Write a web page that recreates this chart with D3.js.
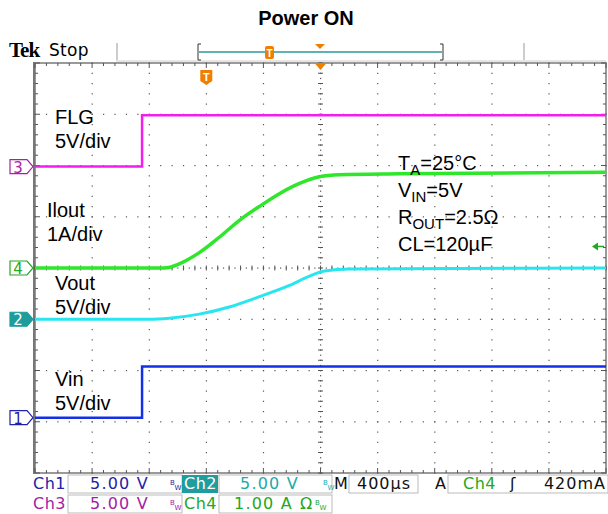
<!DOCTYPE html>
<html>
<head>
<meta charset="utf-8">
<script src="https://cdn.jsdelivr.net/npm/d3@7/dist/d3.min.js"></script>
<style>
body { margin:0; background:#fff; }
svg { display:block; }
</style>
</head>
<body>
<div id="chart-area"></div>
<script>
// Data (time in us, trigger point = 0)
var timeDomain = [-1200, 2800];

var vinTime  = [-1200, -450, 2800];
var vinVolts = [0, 5, 5];

var flgTime  = [-1200, -450, 2800];
var flgVolts = [0, 5, 5];

var ioutTime = [-1200, -295, -190, -49, 91, 232, 372, 512, 653, 793, 933, 1354, 2800];
var ioutAmps = [0, 0, 0.08, 0.3, 0.6, 0.93, 1.2, 1.45, 1.65, 1.78, 1.82, 1.84, 1.87];

var voutTime  = [-1200, -400, -260, -49, 161, 372, 582, 723, 828, 1004, 2800];
var voutVolts = [0, 0, 0.1, 0.5, 1.2, 2.2, 3.3, 4.2, 4.7, 4.9, 5.0];

var triggerLevel = 0.42; // A on Ch4

var labels = [
    { lines:["FLG","5V/div"],   x:55, y:117 },
    { lines:["Ilout","1A/div"], x:47, y:210 },
    { lines:["Vout","5V/div"],  x:55, y:283 },
    { lines:["Vin","5V/div"],   x:55, y:379 }
];

// Geometry
var width = 608, height = 514;
var plot = { left:35, right:606, top:63, bottom:473 };

var svg = d3.select("#chart-area").append("svg")
    .attr("width", width)
    .attr("height", height)
    .style("font-family","'Liberation Sans', Arial, sans-serif");

// Scales
var xDiv = d3.scaleLinear().domain([0,10]).range([plot.left, plot.right]);
var yDiv = d3.scaleLinear().domain([-4,4]).range([plot.bottom, plot.top]);
var timeScale = d3.scaleLinear().domain(timeDomain).range([plot.left, plot.right]);

// channels: offset in divisions, units per div
var channels = {
    ch1: { color:"#1430e6", offset:-2.92, perDiv:5, num:"1", stroke:"#1f1fa8" },
    ch2: { color:"#27e6f0", offset:-1.0,  perDiv:5, num:"2", stroke:"#1f9c9c" },
    ch3: { color:"#f21ef0", offset:1.98,  perDiv:5, num:"3", stroke:"#a81fa8" },
    ch4: { color:"#2ee62a", offset:0.0,   perDiv:1, num:"4", stroke:"#22a822" }
};
function chY(ch, v) { return yDiv(ch.offset + v / ch.perDiv); }

// Title
svg.append("text")
    .attr("x", 306).attr("y", 25)
    .attr("text-anchor","middle")
    .style("font-weight","bold").style("font-size","20px")
    .text("Power ON");

// Header
svg.append("text").attr("x",9).attr("y",57)
    .style("font-family","'Liberation Serif', serif")
    .style("font-weight","bold").style("font-size","21px")
    .style("letter-spacing","-1px")
    .text("Tek");
svg.append("text").attr("x",49).attr("y",56)
    .style("font-family","'DejaVu Sans', sans-serif")
    .style("font-size","17px").style("letter-spacing","0.3px")
    .text("Stop");

[117, 524].forEach(function(x){
    svg.append("line").attr("x1",x).attr("x2",x).attr("y1",43).attr("y2",60)
        .attr("stroke","#999").attr("stroke-width",1);
});
svg.append("line").attr("x1",116).attr("x2",606).attr("y1",61).attr("y2",61)
    .attr("stroke","#ccc");

// record bar
svg.append("line").attr("x1",199).attr("x2",442).attr("y1",52).attr("y2",52)
    .attr("stroke","#2a9a9a").attr("stroke-width",1.5);
svg.append("path").attr("d","M201,44 h-3 v16 h3").attr("fill","none").attr("stroke","#333");
svg.append("path").attr("d","M440,44 h3 v16 h-3").attr("fill","none").attr("stroke","#333");
svg.append("rect").attr("x",265).attr("y",46).attr("width",9).attr("height",13).attr("rx",2)
    .attr("fill","#f07f00");
svg.append("text").attr("x",269.5).attr("y",57).attr("text-anchor","middle")
    .style("font-size","10px").style("font-weight","bold").attr("fill","#fff").text("T");
svg.append("path").attr("d","M315,44 L325,44 L320,49 Z").attr("fill","#f07f00");

// Grid
var grid = svg.append("g");
grid.append("rect")
    .attr("x",plot.left).attr("y",plot.top)
    .attr("width",plot.right-plot.left).attr("height",plot.bottom-plot.top)
    .attr("fill","none").attr("stroke","#9a9a9a").attr("stroke-width",2);
grid.append("line").attr("x1",plot.left-1).attr("x2",plot.left-1)
    .attr("y1",plot.top-1).attr("y2",plot.bottom+1)
    .attr("stroke","#777").attr("stroke-width",2);

var minorX = d3.range(0, 10.001, 0.2);
var minorY = d3.range(-4, 4.001, 0.2);

// dots along vertical major lines
d3.range(1,10).forEach(function(i){
    if (i === 5) return;
    grid.selectAll(null).data(minorY).enter().append("rect")
        .attr("x", xDiv(i)-0.5).attr("y", function(d){ return yDiv(d)-0.5; })
        .attr("width",1.2).attr("height",1.2).attr("fill","#555");
});
// dots along horizontal major lines
d3.range(-3,4).forEach(function(k){
    if (k === 0) return;
    grid.selectAll(null).data(minorX).enter().append("rect")
        .attr("x", function(d){ return xDiv(d)-0.5; }).attr("y", yDiv(k)-0.5)
        .attr("width",1.2).attr("height",1.2).attr("fill","#555");
});
// center axes with ticks
grid.selectAll(null).data(minorY).enter().append("line")
    .attr("x1", xDiv(5)-2.5).attr("x2", xDiv(5)+2.5)
    .attr("y1", function(d){ return yDiv(d); }).attr("y2", function(d){ return yDiv(d); })
    .attr("stroke","#555").attr("stroke-width",1);
grid.selectAll(null).data(d3.range(-4,4.001,0.1)).enter().append("rect")
    .attr("x", xDiv(5)-0.5).attr("y", function(d){ return yDiv(d)-0.5; })
    .attr("width",1.2).attr("height",1.2).attr("fill","#555");
grid.selectAll(null).data(d3.range(0,10.001,0.1)).enter().append("rect")
    .attr("x", function(d){ return xDiv(d)-0.5; }).attr("y", yDiv(0)-0.5)
    .attr("width",1.2).attr("height",1.2).attr("fill","#555");
grid.selectAll(null).data(minorX).enter().append("line")
    .attr("x1", function(d){ return xDiv(d); }).attr("x2", function(d){ return xDiv(d); })
    .attr("y1", yDiv(0)-2.5).attr("y2", yDiv(0)+2.5)
    .attr("stroke","#555").attr("stroke-width",1);
// border ticks
grid.selectAll(null).data(minorX).enter().append("line")
    .attr("x1", function(d){ return xDiv(d); }).attr("x2", function(d){ return xDiv(d); })
    .attr("y1", plot.top).attr("y2", function(d,i){ return plot.top + (i%5===0 ? 5 : 3); })
    .attr("stroke","#555");
grid.selectAll(null).data(minorX).enter().append("line")
    .attr("x1", function(d){ return xDiv(d); }).attr("x2", function(d){ return xDiv(d); })
    .attr("y1", plot.bottom).attr("y2", function(d,i){ return plot.bottom - (i%5===0 ? 5 : 3); })
    .attr("stroke","#555");
grid.selectAll(null).data(minorY).enter().append("line")
    .attr("x1", plot.left).attr("x2", function(d,i){ return plot.left + (i%5===0 ? 5 : 3); })
    .attr("y1", function(d){ return yDiv(d); }).attr("y2", function(d){ return yDiv(d); })
    .attr("stroke","#555");
grid.selectAll(null).data(minorY).enter().append("line")
    .attr("x1", plot.right).attr("x2", function(d,i){ return plot.right - (i%5===0 ? 5 : 3); })
    .attr("y1", function(d){ return yDiv(d); }).attr("y2", function(d){ return yDiv(d); })
    .attr("stroke","#555");

// trigger markers on grid
svg.append("path").attr("d","M"+(xDiv(5)-6)+","+plot.top+" L"+(xDiv(5)+6)+","+plot.top+" L"+xDiv(5)+","+(plot.top+7)+" Z")
    .attr("fill","#f07f00");
var tx = timeScale(0);
svg.append("path")
    .attr("d","M"+(tx-6)+",70 h12 v11 l-6,4 l-6,-4 Z")
    .attr("fill","#f07f00");
svg.append("text").attr("x",tx).attr("y",81).attr("text-anchor","middle")
    .style("font-size","11px").style("font-weight","bold").attr("fill","#fff").text("T");

// Traces
function drawTrace(times, vals, ch, curve, w) {
    var pts = times.map(function(t,i){ return [t, vals[i]]; });
    var line = d3.line()
        .x(function(d){ return timeScale(d[0]); })
        .y(function(d){ return chY(ch, d[1]); })
        .curve(curve);
    svg.append("path")
        .attr("d", line(pts))
        .attr("fill","none")
        .attr("stroke", ch.color)
        .attr("stroke-width", w);
}
drawTrace(flgTime, flgVolts, channels.ch3, d3.curveStepAfter, 2.5);
drawTrace(vinTime, vinVolts, channels.ch1, d3.curveStepAfter, 2.5);
drawTrace(voutTime, voutVolts, channels.ch2, d3.curveMonotoneX, 3);
drawTrace(ioutTime, ioutAmps, channels.ch4, d3.curveMonotoneX, 3.5);

// Channel ground markers
["ch3","ch4","ch2","ch1"].forEach(function(k){
    var ch = channels[k], y = chY(ch, 0);
    var filled = (k === "ch2");
    svg.append("path")
        .attr("d","M10,"+(y-7)+" h17 l6,7 l-6,7 h-17 Z")
        .attr("fill", filled ? ch.stroke : "#fff")
        .attr("stroke", ch.stroke).attr("stroke-width",1.2);
    svg.append("text").attr("x",18).attr("y",y+6)
        .attr("text-anchor","middle")
        .style("font-family","'DejaVu Sans', sans-serif")
        .style("font-size","15px")
        .attr("fill", filled ? "#fff" : ch.stroke)
        .text(ch.num);
});

// trigger level arrow on right
var ty = chY(channels.ch4, triggerLevel);
svg.append("line").attr("x1",596).attr("x2",604).attr("y1",ty).attr("y2",ty)
    .attr("stroke","#22a822").attr("stroke-width",1.5);
svg.append("path").attr("d","M592,"+ty+" l6,-4 v8 Z").attr("fill","#22a822");

// Labels
labels.forEach(function(l){
    l.lines.forEach(function(s,i){
        svg.append("text")
            .attr("x", l.x).attr("y", l.y + i*24 + 7)
            .style("font-size","20px")
            .text(s);
    });
});

// Conditions
var cond = svg.append("g").style("font-size","20px");
function condLine(y, parts) {
    var t = cond.append("text").attr("x",398).attr("y",y);
    parts.forEach(function(p){
        t.append("tspan")
            .attr("dy", p.sub ? 5 : (p.back ? -5 : 0))
            .style("font-size", p.sub ? "15px" : "20px")
            .text(p.s);
    });
}
condLine(170, [{s:"T"},{s:"A",sub:true},{s:"=25°C",back:true}]);
condLine(197, [{s:"V"},{s:"IN",sub:true},{s:"=5V",back:true}]);
condLine(224, [{s:"R"},{s:"OUT",sub:true},{s:"=2.5Ω",back:true}]);
condLine(251, [{s:"CL=120µF"}]);

// Status bar
var bar = svg.append("g").style("font-family","'DejaVu Sans', sans-serif").style("font-size","16px");
function box(x, y, w, h, fill) {
    bar.append("rect").attr("x",x).attr("y",y).attr("width",w).attr("height",h)
        .attr("fill", fill || "#fff").attr("stroke", fill ? "none" : "#bbb");
}
function txt(x, y, s, color, ls, anchor) {
    bar.append("text").attr("x",x).attr("y",y).attr("fill",color)
        .attr("text-anchor", anchor || "start")
        .style("letter-spacing", (ls||0)+"px").text(s);
}
function bw(x, y, color) {
    var t = bar.append("text").attr("x",x).attr("y",y).attr("fill",color).style("font-size","7px");
    t.append("tspan").attr("dy",-4).text("B");
    t.append("tspan").attr("dy",5).text("W");
}
var r1 = 489, r2 = 509;
box(68, 475, 114, 18);
box(182, 475, 36, 18, "#1f9c9c");
box(219, 475, 113, 18);
box(349, 475, 69, 18);
box(448, 475, 160, 18);
box(68, 495, 114, 18);
box(219, 495, 113, 18);

txt(33, r1, "Ch1", "#2323a6", 0.5);
txt(90, r1, "5.00 V", "#2323a6", 1.2);
bw(170, r1, "#2323a6");
txt(184, r1, "Ch2", "#fff", 0.5);
txt(240, r1, "5.00 V", "#20aaaa", 1.2);
bw(323, r1, "#20aaaa");
txt(334, r1, "M", "#111", 0);
txt(357, r1, "400µs", "#111", 1);
txt(435, r1, "A", "#111", 0);
txt(463, r1, "Ch4", "#22a822", 0.5);
txt(510, r1, "ʃ", "#111", 0);
txt(606, r1, "420mA", "#111", 1, "end");

txt(33, r2, "Ch3", "#a321a6", 0.5);
txt(90, r2, "5.00 V", "#a321a6", 1.2);
bw(170, r2, "#a321a6");
txt(184, r2, "Ch4", "#22a822", 0.5);
txt(234, r2, "1.00 A", "#22a822", 1.2);
txt(300, r2, "Ω", "#22a822", 0);
bw(315, r2, "#22a822");
</script>
</body>
</html>
